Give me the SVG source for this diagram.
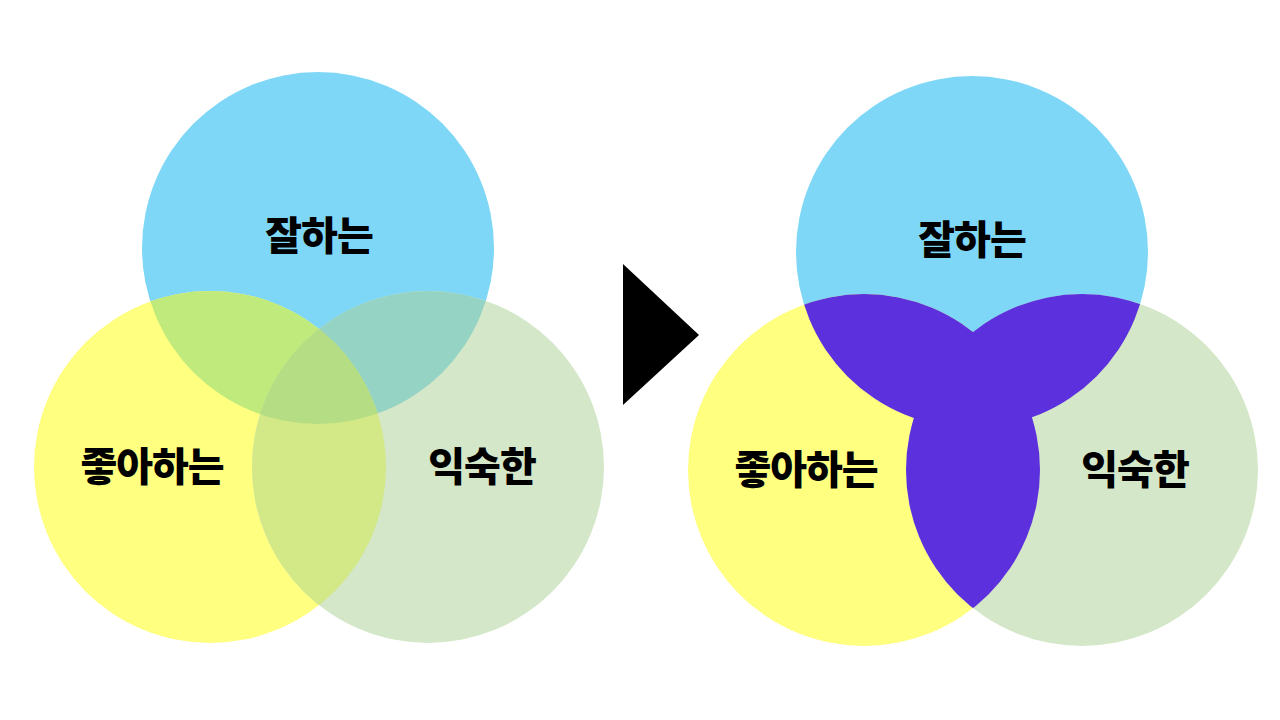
<svg xmlns="http://www.w3.org/2000/svg" width="1280" height="720" viewBox="0 0 1280 720">
  <style>
    .lbl { font-family: "Noto Sans CJK KR", "Noto Sans", sans-serif; font-weight: 900; font-size: 40px; fill: #000; text-anchor: middle; letter-spacing: -1px; }
  </style>
  <defs>
    <circle id="aT" cx="318" cy="248" r="176"/>
    <circle id="aL" cx="210" cy="467" r="176"/>
    <circle id="aR" cx="428" cy="467" r="176"/>
    <clipPath id="cAT"><use href="#aT"/></clipPath>
    <clipPath id="cAL"><use href="#aL"/></clipPath>
    <clipPath id="cAR"><use href="#aR"/></clipPath>
    <circle id="bT" cx="972" cy="252" r="176"/>
    <circle id="bL" cx="864" cy="470" r="176"/>
    <circle id="bR" cx="1082" cy="470" r="176"/>
    <clipPath id="cBT"><use href="#bT"/></clipPath>
    <clipPath id="cBL"><use href="#bL"/></clipPath>
  </defs>
  <rect width="1280" height="720" fill="#ffffff"/>

  <g id="left-venn">
    <use href="#aT" fill="#7fd7f7"/>
    <use href="#aL" fill="#ffff80"/>
    <use href="#aR" fill="#d4e7c8"/>
    <g clip-path="url(#cAT)"><use href="#aL" fill="#c1ea7c"/></g>
    <g clip-path="url(#cAT)"><use href="#aR" fill="#95d4c4"/></g>
    <g clip-path="url(#cAL)"><use href="#aR" fill="#d3e886"/></g>
    <g clip-path="url(#cAT)"><g clip-path="url(#cAL)"><use href="#aR" fill="#b4dd84"/></g></g>
  </g>
  <g id="left-top-label"><text class="lbl" x="319" y="250">잘하는</text></g>
  <g id="left-left-label"><text class="lbl" x="152" y="481">좋아하는</text></g>
  <g id="left-right-label"><text class="lbl" x="482" y="481">익숙한</text></g>

  <g id="arrow"><polygon points="623,264 699,335 623,405" fill="#000"/></g>

  <g id="right-venn">
    <use href="#bT" fill="#7fd7f7"/>
    <use href="#bL" fill="#ffff80"/>
    <use href="#bR" fill="#d4e7c8"/>
    <g clip-path="url(#cBT)"><use href="#bL" fill="#5c30dc"/></g>
    <g clip-path="url(#cBT)"><use href="#bR" fill="#5c30dc"/></g>
    <g clip-path="url(#cBL)"><use href="#bR" fill="#5c30dc"/></g>
  </g>
  <g id="right-top-label"><text class="lbl" x="972" y="254">잘하는</text></g>
  <g id="right-left-label"><text class="lbl" x="806" y="484">좋아하는</text></g>
  <g id="right-right-label"><text class="lbl" x="1135" y="484">익숙한</text></g>
</svg>
